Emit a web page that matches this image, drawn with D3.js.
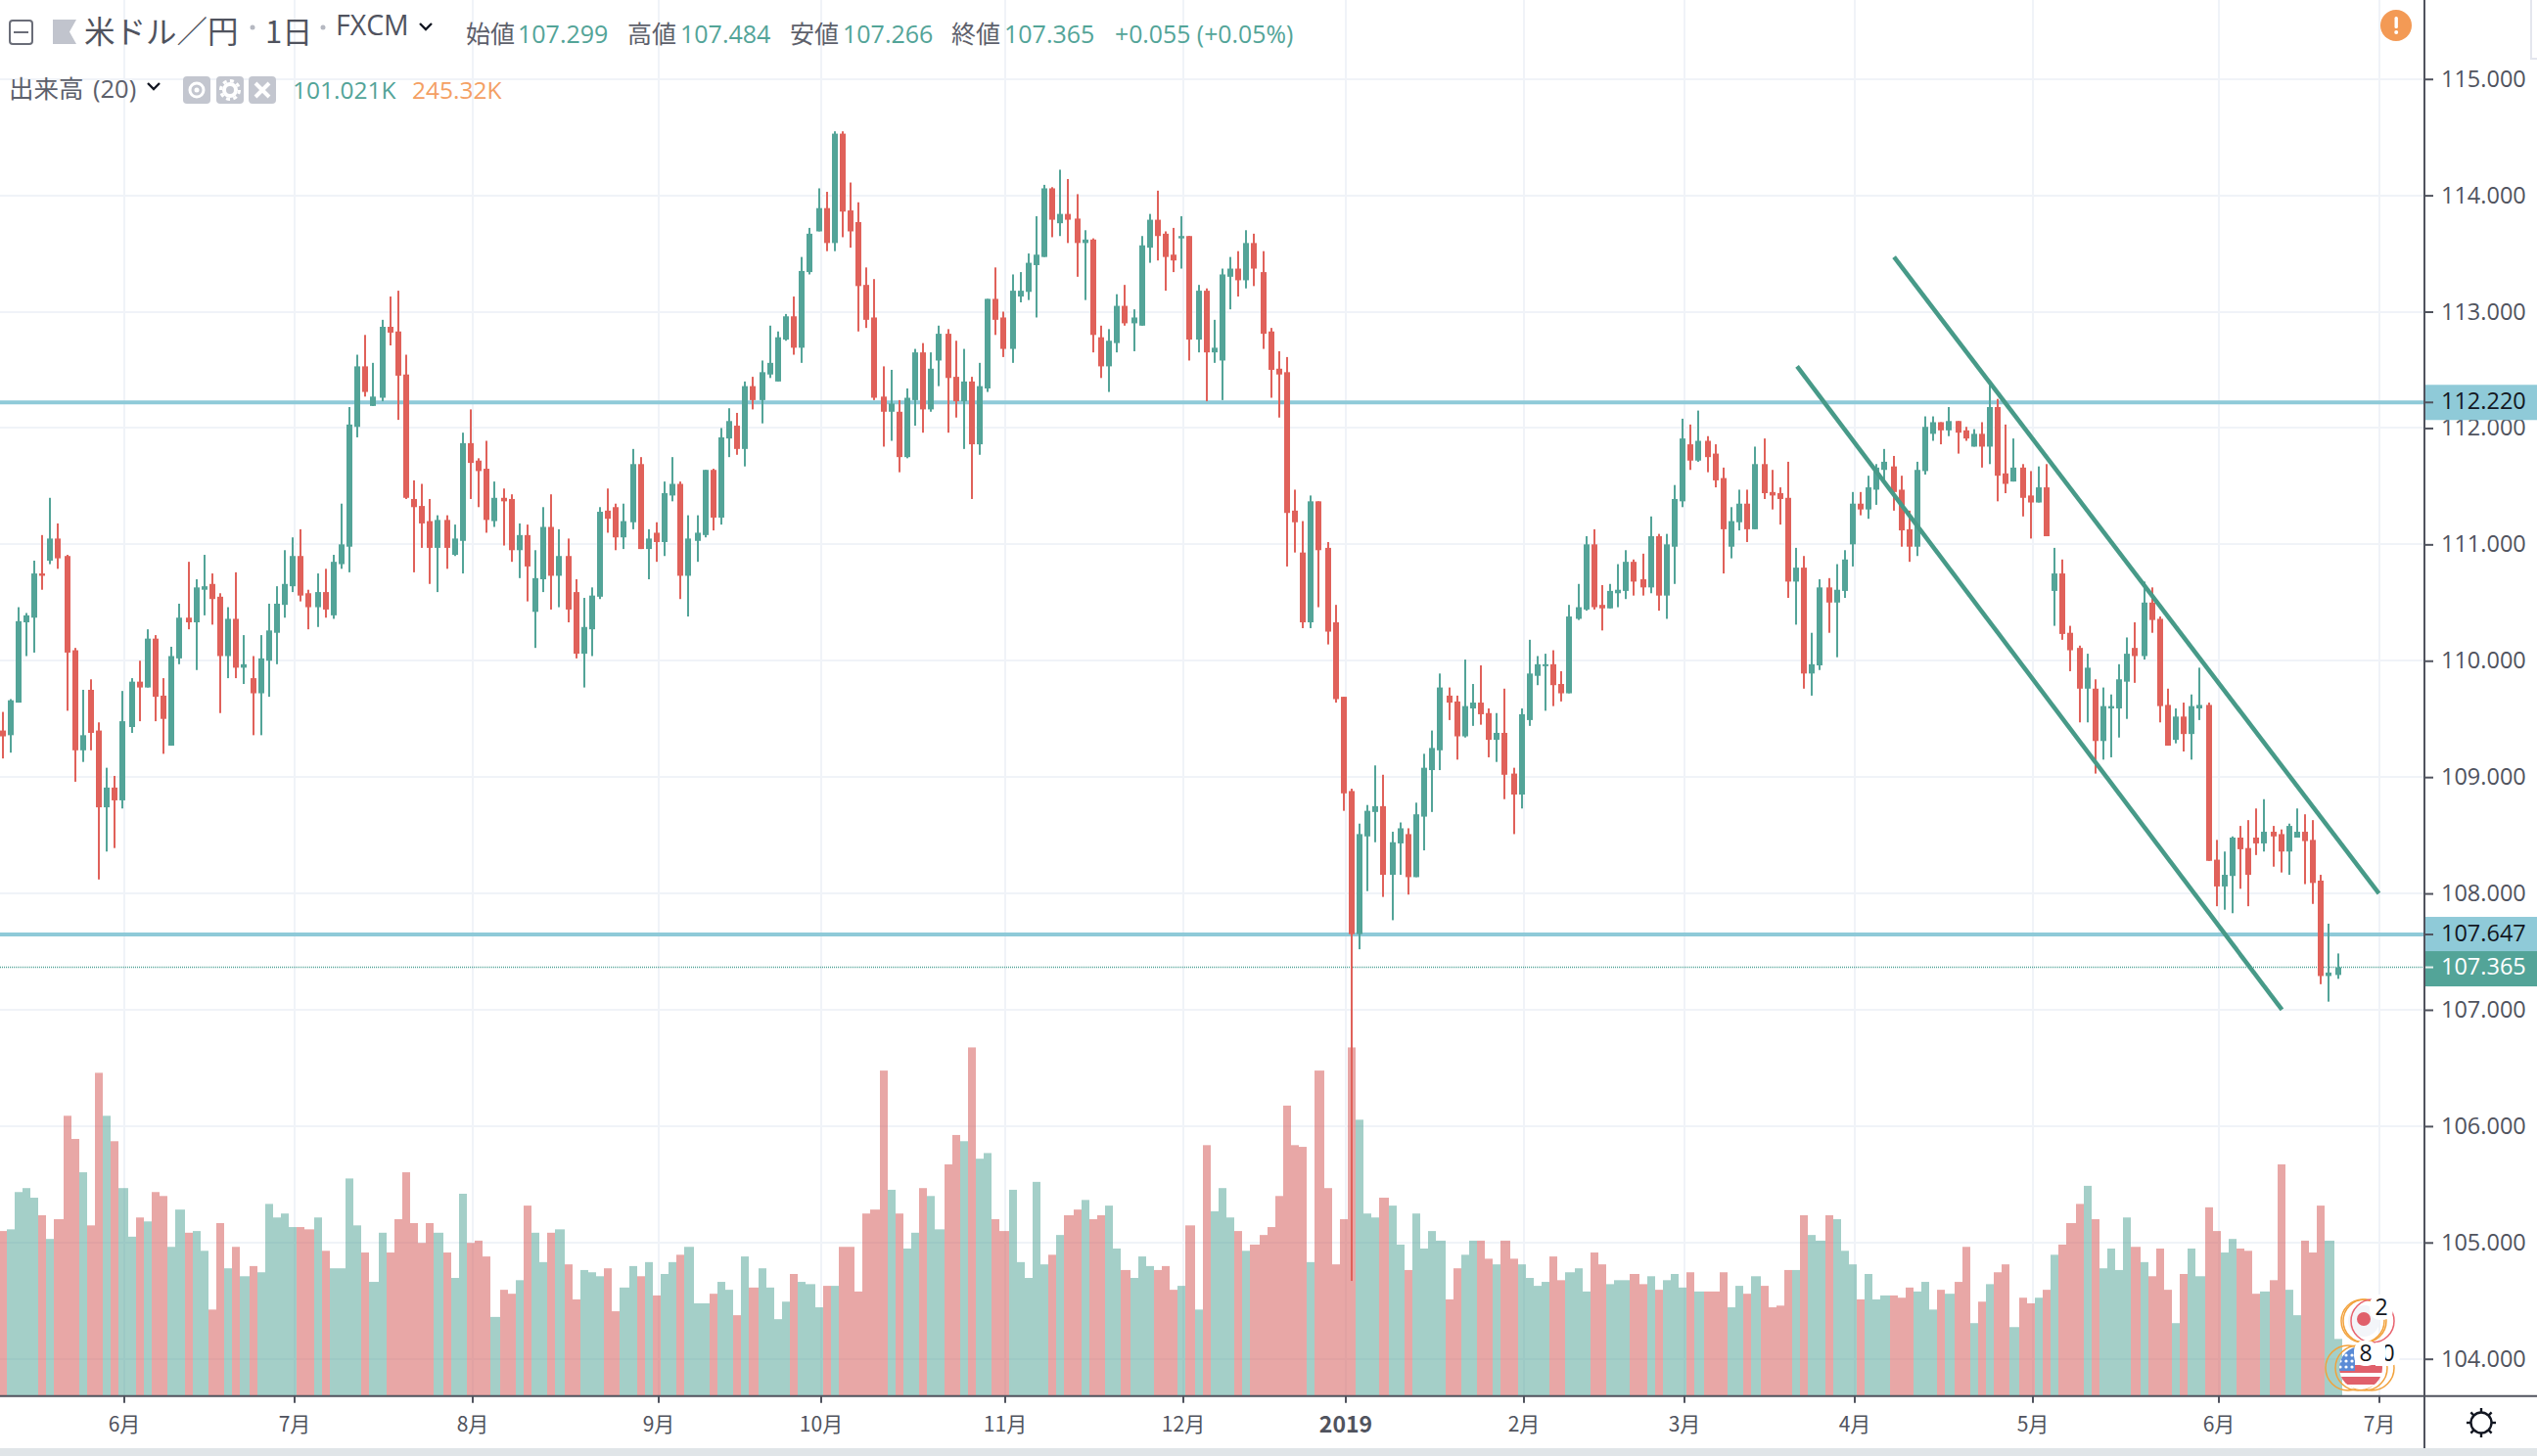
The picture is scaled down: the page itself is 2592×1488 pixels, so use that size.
<!DOCTYPE html>
<html lang="ja">
<head>
<meta charset="utf-8">
<title>米ドル／円 1日 FXCM</title>
<script src="https://cdn.jsdelivr.net/npm/d3@7"></script>
<style>
  html, body { margin: 0; padding: 0; background: #fff; }
  svg { display: block; }
  text { font-family: "Open Sans", sans-serif; fill: #50535e; }
  .cjk { font-family: "Noto Sans CJK JP", sans-serif; }
</style>
</head>
<body>
<svg width="2592" height="1488"></svg>
<script>
// Daily candles, oldest first
const opens = [
  109.40,109.36,109.64,110.33,110.37,110.75,110.86,111.05,110.90,110.09,
  109.23,109.75,109.40,108.74,108.91,108.80,109.43,109.82,109.77,110.19,
  109.70,109.27,110.02,110.37,110.33,110.61,110.66,110.55,110.04,110.36,
  109.94,109.85,109.72,110.00,110.24,110.48,110.64,110.90,110.58,110.46,
  110.59,110.39,110.83,110.98,112.01,112.53,112.19,112.26,112.87,112.83,
  112.46,111.39,111.33,111.20,110.97,111.21,110.91,111.03,111.87,111.72,
  111.65,111.20,111.40,111.39,110.95,111.08,110.42,110.70,111.15,110.73,
  110.90,110.59,110.06,110.27,110.55,111.29,111.32,111.06,111.19,111.69,
  110.96,111.10,111.02,111.42,111.52,110.73,111.03,111.08,111.64,111.23,
  111.91,112.02,111.82,112.36,112.24,112.46,112.40,112.76,112.96,112.69,
  113.34,113.69,113.89,113.59,114.53,113.87,113.77,113.23,112.95,112.27,
  112.14,112.14,111.75,112.24,112.65,112.16,112.58,112.81,112.44,112.23,
  112.40,111.86,112.34,113.11,112.95,112.68,113.13,113.17,113.40,113.47,
  114.06,113.76,113.84,113.80,113.59,113.62,112.78,112.53,112.73,113.05,
  112.90,112.88,113.55,113.79,113.67,113.49,113.63,113.65,112.76,113.18,
  112.65,112.58,113.30,113.37,113.27,113.59,113.34,112.83,112.51,112.48,
  111.29,110.93,110.33,111.37,110.97,110.33,109.69,108.88,107.65,108.49,
  108.70,108.75,108.16,108.43,108.51,108.14,108.66,109.06,109.23,109.70,
  109.65,109.35,109.59,109.64,109.55,109.32,109.38,109.03,108.85,109.49,
  109.87,109.96,109.97,109.80,109.72,110.36,110.44,111.00,110.48,110.45,
  110.58,110.60,110.85,110.70,110.63,111.07,110.56,110.98,111.37,111.86,
  111.72,111.89,111.78,111.57,110.98,111.19,111.35,111.13,111.69,111.45,
  111.44,111.40,110.68,110.80,109.89,109.96,110.63,110.50,110.60,111.00,
  111.35,111.30,111.47,111.64,111.67,111.47,111.13,110.98,111.63,111.95,
  112.05,111.98,112.06,111.98,111.84,111.95,111.84,112.18,111.61,111.54,
  111.66,111.42,111.36,111.49,110.60,110.75,110.24,110.11,109.76,109.76,
  109.31,109.59,109.59,109.82,110.11,110.04,110.50,110.36,109.62,109.32,
  109.52,109.37,109.59,109.62,108.29,108.06,108.15,108.48,108.39,108.48,
  108.43,108.53,108.51,108.36,108.48,108.53,108.46,108.11,107.29,107.299
];
const closes = [
  109.35,109.66,110.34,110.39,110.75,110.73,111.05,110.88,110.07,109.23,
  109.36,109.38,108.74,108.91,108.80,109.48,109.82,109.77,110.19,109.69,
  109.50,110.04,110.37,110.33,110.63,110.64,110.53,110.04,110.36,109.94,
  109.97,109.72,110.02,110.26,110.49,110.66,110.90,110.56,110.46,110.59,
  110.44,110.85,111.00,112.03,112.53,112.31,112.27,112.87,112.82,112.45,
  111.40,111.32,111.18,110.97,111.21,110.97,111.05,111.87,111.70,111.63,
  111.21,111.40,111.37,110.95,111.08,110.81,110.71,111.15,110.73,110.90,
  110.44,110.06,110.29,110.56,111.28,111.22,111.06,111.20,111.69,110.96,
  111.05,111.02,111.44,111.52,110.73,111.05,111.10,111.64,111.23,111.92,
  112.06,111.82,112.36,112.24,112.48,112.56,112.78,112.96,112.69,113.35,
  113.67,113.89,113.59,114.53,113.86,113.69,113.22,112.93,112.26,112.14,
  112.21,111.75,112.26,112.65,112.16,112.51,112.81,112.43,112.23,112.40,
  111.86,112.36,113.11,112.93,112.68,113.18,113.18,113.42,113.49,114.06,
  113.79,113.84,113.79,113.59,113.62,112.80,112.53,112.75,113.05,112.90,
  112.95,113.57,113.79,113.65,113.47,113.44,113.65,112.76,113.18,112.65,
  112.69,113.32,113.37,113.27,113.59,113.37,112.81,112.50,112.46,111.27,
  111.19,110.33,111.37,110.95,110.25,109.67,108.86,107.65,108.51,108.71,
  108.75,108.16,108.44,108.56,108.14,108.68,109.08,109.25,109.77,109.64,
  109.35,109.61,109.64,109.54,109.32,109.38,109.02,108.85,109.54,109.89,
  109.97,109.97,109.79,109.72,110.38,110.46,111.00,110.46,110.45,110.60,
  110.61,110.85,110.68,110.63,111.07,110.56,111.00,111.39,111.91,111.72,
  111.89,111.75,111.55,111.13,111.20,111.35,111.13,111.69,111.44,111.42,
  111.39,110.68,110.80,109.89,109.97,110.63,110.50,110.61,110.87,111.35,
  111.30,111.49,111.66,111.71,111.45,111.12,110.98,111.64,112.01,112.05,
  111.98,112.06,111.96,111.91,111.95,111.84,112.18,111.59,111.52,111.66,
  111.40,111.36,111.49,111.07,110.75,110.23,110.09,109.76,109.94,109.31,
  109.61,109.61,109.84,110.06,110.04,110.50,110.35,109.61,109.27,109.52,
  109.37,109.61,109.62,108.28,108.06,108.16,108.48,108.38,108.16,108.43,
  108.53,108.49,108.36,108.58,108.53,108.45,108.09,107.29,107.32,107.365
];
const highs = [
  109.56,109.67,110.46,110.41,110.86,111.08,111.40,111.18,110.91,110.11,
  109.75,109.84,109.47,109.08,109.01,109.74,109.85,110.00,110.27,110.22,
  109.85,110.12,110.49,110.85,110.70,110.91,110.75,110.58,110.46,110.76,
  110.22,110.04,110.22,110.49,110.64,110.95,111.06,111.13,110.61,110.75,
  110.79,110.91,111.35,112.18,112.63,112.80,112.56,112.93,113.13,113.18,
  112.63,111.55,111.52,111.39,111.25,111.25,111.17,111.96,112.16,111.74,
  111.89,111.54,111.48,111.43,111.18,111.17,110.95,111.32,111.43,111.13,
  111.05,110.70,110.54,110.63,111.32,111.48,111.35,111.35,111.82,111.75,
  111.13,111.19,111.54,111.75,111.54,111.25,111.25,111.64,111.65,112.00,
  112.17,112.13,112.40,112.44,112.58,112.88,112.83,112.98,113.13,113.47,
  113.72,114.06,114.03,114.55,114.55,114.11,113.94,113.38,113.28,112.53,
  112.50,112.24,112.34,112.68,112.73,112.65,112.88,112.85,112.75,112.68,
  112.44,112.56,113.11,113.38,113.00,113.32,113.34,113.50,113.82,114.09,
  114.07,114.22,114.14,114.01,113.70,113.63,112.88,112.85,113.15,113.23,
  113.02,113.65,113.84,114.04,113.69,113.72,113.82,113.65,113.23,113.20,
  112.93,113.37,113.47,113.52,113.70,113.67,113.52,112.86,112.66,112.61,
  111.47,111.20,111.42,111.37,111.02,110.48,109.69,108.90,108.60,108.76,
  109.10,109.02,108.53,108.61,108.56,108.78,109.20,109.40,109.89,109.77,
  109.70,110.01,109.80,109.96,109.59,109.55,109.76,109.08,109.59,110.18,
  110.04,110.06,110.09,109.91,110.48,110.66,111.07,111.13,110.65,110.66,
  110.83,110.95,110.87,110.92,111.24,111.09,111.09,111.51,112.08,112.03,
  112.15,111.93,111.86,111.66,111.32,111.47,111.47,111.84,111.91,111.64,
  111.49,111.71,110.97,110.90,110.24,110.70,110.71,110.83,110.95,111.45,
  111.45,111.59,111.69,111.82,111.76,111.59,111.29,111.71,112.10,112.10,
  112.05,112.18,112.06,112.01,111.99,112.05,112.37,112.25,112.03,111.91,
  111.69,111.63,111.67,111.69,110.97,110.87,110.30,110.13,110.06,109.84,
  109.77,109.71,109.97,110.20,110.33,110.68,110.63,110.38,109.76,109.59,
  109.64,109.71,109.94,109.64,108.46,108.36,108.49,108.58,108.63,108.73,
  108.81,108.58,108.55,108.60,108.73,108.68,108.63,108.16,107.74,107.484
];
const lows = [
  109.16,109.21,109.64,110.04,110.07,110.61,110.83,110.79,109.57,108.96,
  109.13,109.23,108.12,108.36,108.39,108.73,109.38,109.48,109.77,109.48,
  109.20,109.27,109.97,110.27,109.92,110.39,110.31,109.55,109.85,109.85,
  109.80,109.36,109.36,109.69,109.97,110.37,110.59,110.51,110.27,110.29,
  110.37,110.36,110.79,110.76,111.92,112.27,112.19,112.23,112.71,112.07,
  111.39,110.76,110.97,110.66,110.59,110.79,110.90,110.75,111.39,111.32,
  111.10,111.15,110.99,110.85,110.71,110.51,110.11,110.59,110.44,110.46,
  110.33,110.02,109.77,110.04,110.53,111.10,110.95,110.96,111.13,110.96,
  110.70,110.85,110.90,111.37,110.53,110.38,110.85,111.06,111.12,111.17,
  111.75,111.77,111.67,112.16,112.04,112.43,112.40,112.75,112.63,112.56,
  113.32,113.69,113.52,113.52,113.64,113.55,112.83,112.86,112.24,111.84,
  111.89,111.62,111.74,112.02,111.96,112.14,112.36,111.96,112.09,111.82,
  111.39,111.77,112.31,112.80,112.61,112.56,113.08,113.10,112.95,113.47,
  113.64,113.65,113.59,113.30,113.10,112.65,112.43,112.31,112.65,112.88,
  112.66,112.88,113.42,113.44,113.18,113.34,113.37,112.58,112.65,112.23,
  112.56,112.24,113.02,113.13,113.20,113.22,112.68,112.26,112.09,110.81,
  110.93,110.28,110.28,110.46,110.14,109.64,108.71,104.67,107.52,108.02,
  108.44,107.97,107.77,108.16,107.99,108.14,108.37,108.70,109.06,109.49,
  109.15,109.34,109.44,109.45,109.17,109.13,108.81,108.51,108.73,109.44,
  109.79,109.57,109.61,109.65,109.72,110.35,110.43,110.44,110.26,110.45,
  110.46,110.53,110.56,110.56,110.58,110.43,110.36,110.66,111.32,111.64,
  111.71,111.62,111.49,110.75,110.88,111.12,111.02,111.13,111.39,111.30,
  111.17,110.54,110.31,109.76,109.70,109.92,110.24,110.03,110.54,110.81,
  111.25,111.22,111.34,111.54,111.29,110.98,110.85,110.90,111.60,111.89,
  111.86,111.93,111.78,111.89,111.84,111.66,111.69,111.37,111.44,111.54,
  111.24,111.05,111.36,111.07,110.30,110.18,109.91,109.47,109.47,109.03,
  109.15,109.17,109.34,109.50,109.81,110.01,110.24,109.47,109.27,109.29,
  109.22,109.15,109.49,108.28,107.89,107.86,107.83,108.04,107.89,108.33,
  108.36,108.23,108.18,108.16,108.48,108.08,107.91,107.22,107.07,107.266
];
// Volume in thousands
const volumes = [
  292,295,361,368,351,320,278,313,496,455,
  396,302,572,496,451,368,282,316,309,361,
  354,264,330,289,292,257,153,306,226,264,
  212,230,219,340,316,323,299,299,295,316,
  257,226,226,385,302,254,202,289,254,313,
  396,306,271,306,289,254,209,358,271,275,
  247,140,188,181,205,337,289,237,289,295,
  233,171,223,219,212,226,150,192,230,212,
  237,178,216,237,250,264,164,164,181,202,
  188,143,247,192,226,192,136,167,216,202,
  198,157,195,195,264,264,185,323,330,576,
  365,323,261,289,368,354,295,410,462,451,
  617,420,430,313,292,365,237,209,379,233,
  250,285,320,330,347,313,320,337,261,223,
  209,247,230,223,230,188,195,302,153,444,
  327,368,316,292,257,268,285,299,354,514,
  444,441,237,576,368,233,313,617,489,323,
  316,351,337,268,223,323,261,292,275,171,
  226,250,275,275,243,233,275,243,233,209,
  195,202,247,205,219,226,185,254,233,198,
  205,205,216,198,212,188,205,216,192,219,
  185,185,185,219,157,195,181,212,195,157,
  160,223,223,320,285,275,320,313,257,233,
  171,216,171,178,178,174,192,185,202,153,
  188,181,202,264,129,167,198,219,233,122,
  174,164,174,188,250,268,306,340,372,313,
  226,261,223,316,264,237,212,261,188,129,
  216,261,212,334,292,254,278,261,257,181,
  185,205,410,188,143,275,254,337,275,101.021
];

const priceTicks = [104, 105, 106, 107, 108, 109, 110, 111, 112, 113, 114, 115];
const monthTicks = [15, 36, 58, 81, 101, 124, 146, 166, 188, 208, 229, 251, 274, 294];
const monthLabels = ["6月", "7月", "8月", "9月", "10月", "11月", "12月", "2019", "2月", "3月", "4月", "5月", "6月", "7月"];
const levelPrices = [112.22, 107.647];
const lastPrice = 107.365;
const channelLines = [
  { from: 234, to: 294, fromPrice: 113.47, toPrice: 108.0 },
  { from: 222, to: 282, fromPrice: 112.53, toPrice: 107.0 }
];

const UP = "#53a498", DOWN = "#e0615a", VOL_DOWN = "#d65f5c", LEVEL = "#8fcad8", INK = "#50535e", GRID = "#f0f3f8";
const axisX = 2477, axisY = 1426.7, width = 2592, height = 1488;

const svg = d3.select("svg");

const xRaw = d3.scaleLinear().domain([0, 294]).range([3.12, 3.12 + 294 * 8.2564]);
// candles sit on odd pixels, which gives the 8,8,..,10 stepping of the original
const x = xRaw.copy().interpolate((a, b) => t => 2 * Math.floor((a + (b - a) * t - 1) / 2) + 1);
const y = d3.scaleLinear().domain([104, 115]).range([1388.7, 80.7]);
const yVol = d3.scaleLinear().domain([0, 620]).range([axisY, axisY - 358]);

const candles = d3.range(opens.length).map(i => ({
  i: i, open: opens[i], close: closes[i], high: highs[i], low: lows[i], volume: volumes[i],
  up: closes[i] >= opens[i]
}));

drawGrid();
drawVolume();
drawLevels();
drawCandles();
drawChannels();
drawEvents();
drawAxes();
drawPriceLabels();
drawHeader();
drawCorner();

/////////////HELPERS//////////////////

function drawGrid() {
  const g = svg.append("g").attr("stroke", GRID).attr("stroke-width", 2);
  g.selectAll("line.h").data(priceTicks).enter().append("line")
    .attr("class", "h")
    .attr("x1", 0).attr("x2", axisX)
    .attr("y1", d => Math.round(y(d))).attr("y2", d => Math.round(y(d)));
  g.selectAll("line.v").data(monthTicks).enter().append("line")
    .attr("class", "v")
    .attr("x1", d => x(d) + 2).attr("x2", d => x(d) + 2)
    .attr("y1", 0).attr("y2", axisY);
}

function drawVolume() {
  svg.append("g")
    .selectAll("rect")
    .data(candles)
    .enter().append("rect")
    .attr("x", d => x(d.i) - 4)
    .attr("width", d => x(d.i + 1) - x(d.i))
    .attr("y", d => yVol(d.volume))
    .attr("height", d => axisY - yVol(d.volume))
    .attr("fill", d => d.up ? UP : VOL_DOWN)
    .attr("fill-opacity", d => d.up ? 0.53 : 0.55);
}

function drawLevels() {
  svg.append("g").selectAll("line").data(levelPrices).enter().append("line")
    .attr("x1", 0).attr("x2", axisX)
    .attr("y1", d => y(d)).attr("y2", d => y(d))
    .attr("stroke", LEVEL).attr("stroke-width", 4);
  svg.append("line")
    .attr("x1", 0).attr("x2", axisX)
    .attr("y1", y(lastPrice)).attr("y2", y(lastPrice))
    .attr("stroke", UP).attr("stroke-width", 1.5)
    .attr("stroke-dasharray", "1 1");
}

function drawCandles() {
  const g = svg.append("g").selectAll("g")
    .data(candles)
    .enter().append("g")
    .attr("fill", d => d.up ? UP : DOWN);
  g.append("rect")
    .attr("x", d => x(d.i) - 1).attr("width", 2)
    .attr("y", d => y(d.high))
    .attr("height", d => y(d.low) - y(d.high));
  g.append("rect")
    .attr("x", d => x(d.i) - 3).attr("width", 6)
    .attr("y", d => y(Math.max(d.open, d.close)))
    .attr("height", d => Math.max(2, Math.abs(y(d.open) - y(d.close))));
}

function drawChannels() {
  svg.append("g").selectAll("line").data(channelLines).enter().append("line")
    .attr("x1", d => xRaw(d.from)).attr("y1", d => y(d.fromPrice))
    .attr("x2", d => xRaw(d.to)).attr("y2", d => y(d.toPrice))
    .attr("stroke", "#479a88").attr("stroke-width", 4.5);
}

function drawEvents() {
  const g = svg.append("g").attr("fill", "none").attr("stroke-width", 1.5);

  // Japan marker
  g.append("circle").attr("cx", 2415).attr("cy", 1350).attr("r", 16).attr("fill", "#f3f5f9");
  g.append("circle").attr("cx", 2415).attr("cy", 1348).attr("r", 7).attr("fill", "#e0606b");
  [[2414, "#f2a23c"], [2416, "#f2a23c"], [2424, "#e8636f"]].forEach(r => {
    g.append("circle").attr("cx", r[0]).attr("cy", 1350).attr("r", 22).attr("stroke", r[1]);
  });

  // US marker
  const clip = svg.append("clipPath").attr("id", "usClip");
  clip.append("circle").attr("cx", 2412).attr("cy", 1398).attr("r", 22);
  const flag = svg.append("g").attr("clip-path", "url(#usClip)");
  flag.append("rect").attr("x", 2385).attr("y", 1375).attr("width", 55).attr("height", 46).attr("fill", "#fff");
  flag.append("rect").attr("x", 2385).attr("y", 1395).attr("width", 55).attr("height", 8).attr("fill", "#e0606b");
  flag.append("rect").attr("x", 2385).attr("y", 1407).attr("width", 55).attr("height", 8).attr("fill", "#e0606b");
  flag.append("rect").attr("x", 2385).attr("y", 1375).attr("width", 21).attr("height", 26).attr("fill", "#5a8bd6");
  d3.range(3).forEach(a => d3.range(3).forEach(b => {
    flag.append("circle").attr("cx", 2391 + a * 6).attr("cy", 1385 + b * 6).attr("r", 1.6).attr("fill", "#fff");
  }));
  [2399, 2409, 2416, 2423].forEach(c => {
    g.append("circle").attr("cx", c).attr("cy", 1398).attr("r", 23).attr("stroke", "#f2a23c");
  });

  // small white count badges
  [[2433, 1336, "2"], [2417, 1383, "8"], [2440, 1383, "0"]].forEach(b => {
    svg.append("rect").attr("x", b[0] - 12).attr("y", b[1] - 13).attr("width", 24).attr("height", 26)
      .attr("rx", 10).attr("fill", "#fff");
    svg.append("text").attr("x", b[0]).attr("y", b[1]).attr("dy", "0.36em")
      .attr("text-anchor", "middle").style("font-size", "23px").style("fill", "#131722").text(b[2]);
  });
  svg.append("rect").attr("x", 2427).attr("y", 1372).attr("width", 10).attr("height", 24).attr("fill", "#fff");
}

function drawAxes() {
  // bottom strip first so the axis lines stay on top
  svg.append("rect").attr("x", 0).attr("y", 1480).attr("width", width).attr("height", height - 1480).attr("fill", "#e0e5e8");

  const priceAxis = d3.axisRight(y).tickValues(priceTicks).tickSize(9).tickPadding(8)
    .tickFormat(d3.format(".3f"));
  const gp = svg.append("g").attr("transform", `translate(${axisX},0)`).call(priceAxis);
  gp.select(".domain").remove();
  gp.selectAll(".tick line").attr("stroke", INK).attr("stroke-width", 2);
  gp.selectAll(".tick text").attr("class", "price-label")
    .style("font-family", '"Open Sans", sans-serif').style("font-size", "23.5px").style("fill", INK);

  const timeAxis = d3.axisBottom(x).tickValues(monthTicks).tickSize(7).offset(0)
    .tickFormat(d => monthLabels[monthTicks.indexOf(d)]);
  const gt = svg.append("g").attr("transform", `translate(2,${axisY})`).call(timeAxis);
  gt.select(".domain").remove();
  gt.selectAll(".tick line").attr("stroke", INK).attr("stroke-width", 2);
  gt.selectAll(".tick text")
    .attr("y", 29).attr("dy", "0.36em")
    .style("font-family", '"Noto Sans CJK JP", sans-serif')
    .style("font-size", d => monthLabels[monthTicks.indexOf(d)] === "2019" ? "23px" : "21px")
    .style("font-weight", d => monthLabels[monthTicks.indexOf(d)] === "2019" ? 700 : 400)
    .style("fill", INK);

  svg.append("line").attr("x1", 0).attr("x2", width).attr("y1", axisY).attr("y2", axisY)
    .attr("stroke", INK).attr("stroke-width", 2);
  svg.append("line").attr("x1", axisX).attr("x2", axisX).attr("y1", 0).attr("y2", 1480)
    .attr("stroke", INK).attr("stroke-width", 2);
}

function drawPriceLabels() {
  const tags = levelPrices.map(p => ({ price: p, bg: LEVEL, fg: "#131722", mark: INK }))
    .concat([{ price: lastPrice, bg: UP, fg: "#fff", mark: "#e6f2f0", offset: 1.5 }]);
  const g = svg.append("g").selectAll("g").data(tags).enter().append("g")
    .attr("transform", d => `translate(${axisX + 1},${y(d.price)})`);
  g.append("rect")
    .attr("x", 0).attr("width", width - axisX - 1)
    .attr("y", d => -18 + (d.offset || 0)).attr("height", 36)
    .attr("fill", d => d.bg);
  g.append("line").attr("x1", 0).attr("x2", 8).attr("stroke", d => d.mark).attr("stroke-width", 2);
  g.append("text")
    .attr("x", 16).attr("dy", "0.3em")
    .style("font-size", "23.5px")
    .style("fill", d => d.fg)
    .text(d => d3.format(".3f")(d.price));
}

function label(str, px, py, size, color, cjk) {
  return svg.append("text")
    .attr("class", cjk ? "cjk" : null)
    .attr("x", px).attr("y", py).attr("dy", "0.36em")
    .style("font-size", size + "px")
    .style("fill", color)
    .text(str);
}

function chevron(px, py) {
  svg.append("path")
    .attr("d", `M${px},${py} l6,6 l6,-6`)
    .attr("fill", "none").attr("stroke", "#131722").attr("stroke-width", 2.4);
}

function drawHeader() {
  // collapse box + flag
  svg.append("rect").attr("x", 10).attr("y", 21).attr("width", 23).attr("height", 24).attr("rx", 3)
    .attr("fill", "#fff").attr("stroke", "#6a6d78").attr("stroke-width", 2);
  svg.append("line").attr("x1", 14).attr("x2", 29).attr("y1", 33).attr("y2", 33)
    .attr("stroke", "#6a6d78").attr("stroke-width", 2);
  svg.append("path").attr("d", "M54,20 h24 l-7,12.5 l7,12.5 h-24 z").attr("fill", "#c1c4cd");

  label("米ドル／円", 86, 33, 31.5, INK, true);
  svg.append("circle").attr("cx", 258).attr("cy", 28).attr("r", 2.5).attr("fill", "#b5b8c1");
  label("1日", 271, 33, 31, INK, true);
  svg.append("circle").attr("cx", 330).attr("cy", 28).attr("r", 2.5).attr("fill", "#b5b8c1");
  label("FXCM", 343, 26, 28.5, INK, false);
  chevron(429, 24);

  const row = [
    ["始値", 476, "107.299", 529],
    ["高値", 641, "107.484", 695],
    ["安値", 807, "107.266", 861],
    ["終値", 972, "107.365", 1026]
  ];
  row.forEach(r => {
    label(r[0], r[1], 35, 25, "#5d606b", true);
    label(r[2], r[3], 35, 25, UP, false);
  });
  label("+0.055 (+0.05%)", 1139, 35, 24.8, UP, false);

  label("出来高", 9, 91, 25.5, "#5d606b", true);
  label("(20)", 95, 91, 25.5, "#5d606b", false);
  chevron(151, 85);
  [187, 221, 254].forEach(px => {
    svg.append("rect").attr("x", px).attr("y", 78).attr("width", 28).attr("height", 28).attr("rx", 4)
      .attr("fill", "#c3c6cf");
  });
  // eye
  svg.append("circle").attr("cx", 201).attr("cy", 92).attr("r", 7).attr("fill", "none").attr("stroke", "#fff").attr("stroke-width", 3);
  svg.append("circle").attr("cx", 201).attr("cy", 92).attr("r", 2.5).attr("fill", "#fff");
  // gear
  svg.append("circle").attr("cx", 235).attr("cy", 92).attr("r", 6).attr("fill", "none").attr("stroke", "#fff").attr("stroke-width", 4);
  svg.append("circle").attr("cx", 235).attr("cy", 92).attr("r", 9.5).attr("fill", "none").attr("stroke", "#fff").attr("stroke-width", 3).attr("stroke-dasharray", "4 3.4");
  // close
  svg.append("path").attr("d", "M261,85 l14,14 M275,85 l-14,14").attr("stroke", "#fff").attr("stroke-width", 4);

  label("101.021K", 299, 92, 24.5, UP, false);
  label("245.32K", 421, 92, 24.5, "#f4a063", false);
}

function drawCorner() {
  // warning badge
  svg.append("circle").attr("cx", 2448).attr("cy", 26).attr("r", 16).attr("fill", "#f39a55");
  svg.append("rect").attr("x", 2446.5).attr("y", 17).attr("width", 3.4).attr("height", 12).attr("rx", 1.5).attr("fill", "#fff");
  svg.append("circle").attr("cx", 2448.2).attr("cy", 33).attr("r", 2).attr("fill", "#fff");

  // edge of a side panel
  svg.append("rect").attr("x", 2586).attr("y", -2).attr("width", 10).attr("height", 62)
    .attr("fill", "#fff").attr("stroke", "#e4e6ee").attr("stroke-width", 2);

  // settings gear
  const gear = svg.append("g").attr("transform", "translate(2535,1454)")
    .attr("stroke", "#131722").attr("fill", "none");
  gear.append("circle").attr("r", 10.5).attr("stroke-width", 2.4);
  d3.range(8).forEach(k => {
    const a = k * Math.PI / 4;
    gear.append("line")
      .attr("x1", 10.5 * Math.cos(a)).attr("y1", 10.5 * Math.sin(a))
      .attr("x2", 15 * Math.cos(a)).attr("y2", 15 * Math.sin(a))
      .attr("stroke-width", 2.4);
  });
}
</script>
</body>
</html>
